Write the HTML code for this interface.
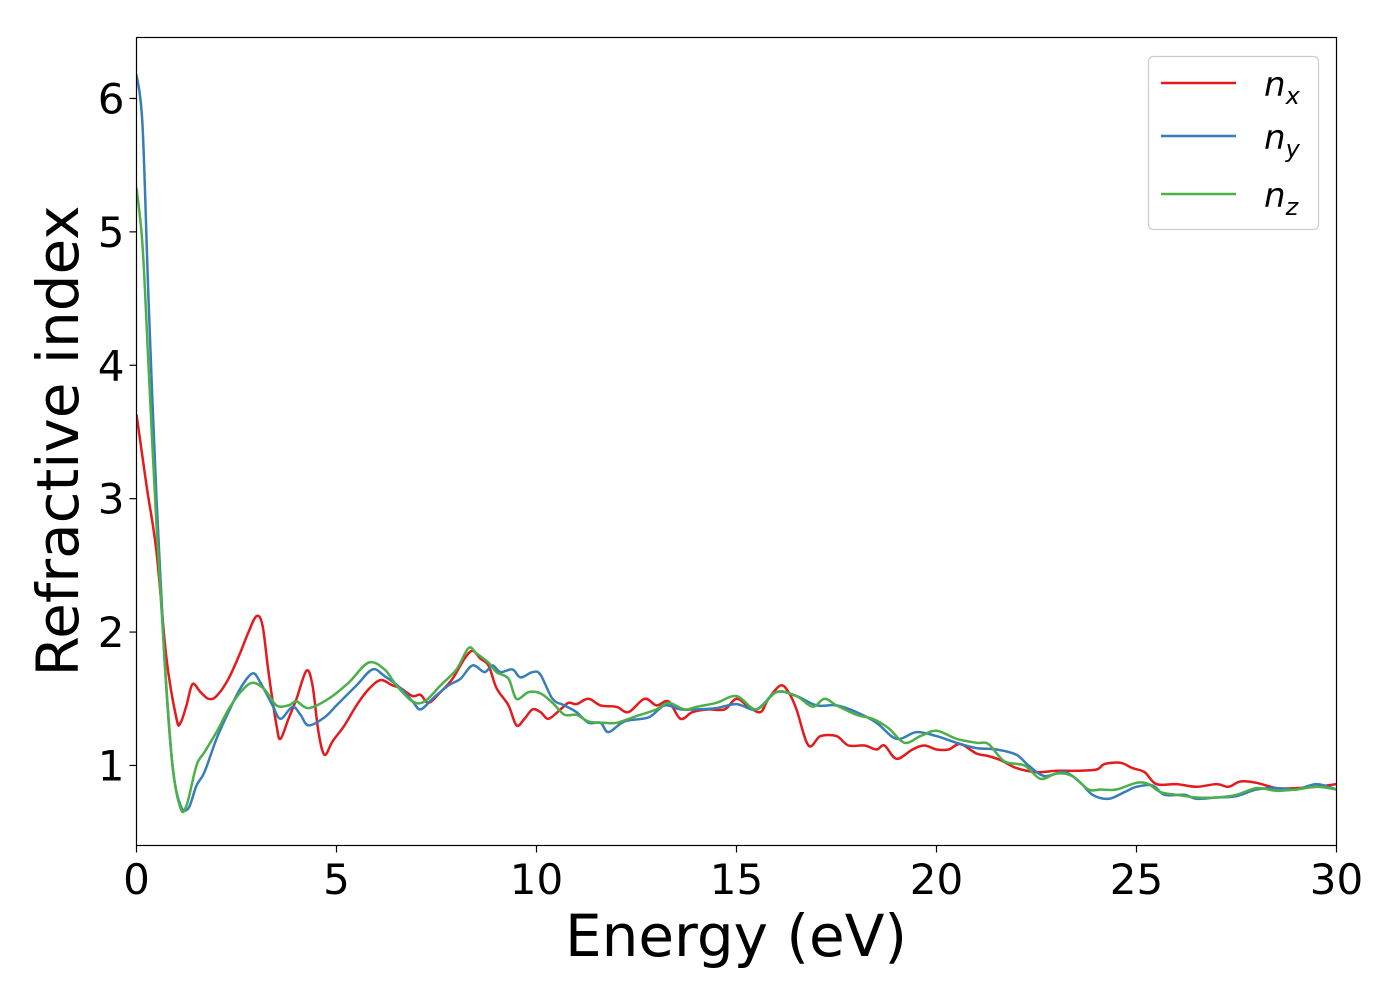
<!DOCTYPE html>
<html><head><meta charset="utf-8"><style>
body{margin:0;background:#fff}
svg text{font-family:"DejaVu Sans","Liberation Sans",sans-serif;fill:#000}
</style></head><body>
<svg id="chart" width="1400" height="1000" viewBox="0 0 1400 1000">
<rect x="0" y="0" width="1400" height="1000" fill="#fff"/>
<g id="plot"></g>
<rect x="136.5" y="37.5" width="1200" height="808" fill="none" stroke="#000" stroke-width="1.2"/>
<g id="xticks"></g>
<g id="yticks"></g>
<text x="736" y="956" font-size="58" text-anchor="middle">Energy (eV)</text>
<text transform="translate(78,441) rotate(-90)" font-size="58" text-anchor="middle">Refractive index</text>
<g>
<rect x="1148.5" y="56.5" width="170" height="173" rx="5" fill="#fff" stroke="#ccc" stroke-width="1.2"/>
<g><line x1="1161" y1="83" x2="1236" y2="83" stroke="#e41a1c" stroke-width="2.5"/><text x="1264" y="96" font-size="34" font-style="italic">n<tspan font-size="24" dy="8">x</tspan></text></g>
<g><line x1="1161" y1="136" x2="1236" y2="136" stroke="#377eb8" stroke-width="2.5"/><text x="1264" y="149" font-size="34" font-style="italic">n<tspan font-size="24" dy="8">y</tspan></text></g>
<g><line x1="1161" y1="194" x2="1236" y2="194" stroke="#4daf4a" stroke-width="2.5"/><text x="1264" y="207" font-size="34" font-style="italic">n<tspan font-size="24" dy="8">z</tspan></text></g>
</g>
</svg>
<script>
const xTicks=[0,5,10,15,20,25,30];
const yTicks=[1,2,3,4,5,6];
const nxE=[0,0.25,0.5,0.75,1.0,1.1,1.25,1.4,1.6,1.8,2.0,2.3,2.6,2.8,3.0,3.15,3.3,3.5,3.6,3.8,4.0,4.25,4.4,4.55,4.7,4.9,5.2,5.5,5.8,6.1,6.4,6.6,6.9,7.1,7.3,7.6,7.9,8.2,8.4,8.6,8.8,9.0,9.3,9.5,9.7,9.9,10.1,10.3,10.6,10.8,11.0,11.3,11.6,12.0,12.3,12.7,13.0,13.3,13.6,13.9,14.3,14.7,15.0,15.3,15.6,15.8,16.1,16.3,16.5,16.8,17.1,17.5,17.8,18.2,18.5,18.7,19.0,19.4,19.7,20.0,20.3,20.6,21.0,21.3,21.6,22.0,22.5,23.0,23.5,24.0,24.2,24.6,24.9,25.2,25.5,26.0,26.5,27.0,27.3,27.6,28.0,28.5,29.0,29.5,30];
const nxV=[3.63,3.1,2.6,1.8,1.35,1.32,1.45,1.61,1.55,1.5,1.52,1.65,1.85,2.0,2.12,2.05,1.7,1.3,1.2,1.35,1.5,1.71,1.6,1.25,1.08,1.18,1.3,1.45,1.57,1.64,1.6,1.58,1.52,1.53,1.47,1.55,1.65,1.8,1.86,1.8,1.75,1.58,1.45,1.3,1.35,1.42,1.4,1.35,1.42,1.47,1.46,1.5,1.45,1.44,1.4,1.5,1.45,1.48,1.35,1.4,1.42,1.42,1.5,1.44,1.4,1.5,1.6,1.55,1.42,1.15,1.22,1.22,1.15,1.15,1.12,1.15,1.05,1.12,1.15,1.12,1.12,1.16,1.09,1.07,1.04,0.98,0.95,0.96,0.96,0.97,1.01,1.02,0.98,0.95,0.86,0.86,0.84,0.86,0.84,0.88,0.87,0.83,0.83,0.84,0.86];
const nyE=[0,0.15,0.3,0.5,0.7,0.9,1.1,1.3,1.5,1.7,2.0,2.3,2.6,2.9,3.1,3.4,3.6,3.9,4.1,4.3,4.7,5.0,5.5,5.9,6.2,6.6,6.9,7.1,7.4,7.8,8.1,8.4,8.7,8.9,9.1,9.4,9.6,9.9,10.1,10.4,10.7,11.0,11.3,11.6,11.8,12.2,12.8,13.2,13.6,14.0,14.5,15.0,15.5,16.0,16.5,17.0,17.5,18.0,18.5,19.0,19.5,20.0,20.5,21.0,21.5,22.0,22.3,22.7,23.2,23.6,23.9,24.3,24.7,25.0,25.4,25.7,26.2,26.5,27.0,27.5,28.0,28.5,29.0,29.5,30];
const nyV=[6.18,5.8,4.5,3.0,1.8,1.0,0.7,0.68,0.85,0.95,1.2,1.4,1.58,1.69,1.62,1.45,1.35,1.44,1.38,1.3,1.36,1.45,1.6,1.72,1.67,1.58,1.48,1.42,1.5,1.6,1.65,1.75,1.7,1.75,1.7,1.72,1.66,1.7,1.68,1.5,1.45,1.4,1.32,1.32,1.25,1.33,1.36,1.45,1.42,1.42,1.43,1.46,1.42,1.55,1.52,1.45,1.45,1.4,1.32,1.2,1.25,1.22,1.17,1.13,1.12,1.08,1.0,0.92,0.95,0.87,0.78,0.75,0.8,0.84,0.85,0.78,0.78,0.75,0.76,0.77,0.82,0.83,0.82,0.86,0.82];
const nzE=[0,0.15,0.3,0.5,0.7,0.9,1.1,1.25,1.5,1.7,2.0,2.3,2.6,2.9,3.2,3.5,3.8,4.0,4.3,4.8,5.3,5.8,6.2,6.5,6.9,7.2,7.6,8.0,8.3,8.5,8.8,9.0,9.3,9.5,9.8,10.1,10.4,10.7,11.0,11.3,11.7,12.0,12.5,13.0,13.3,13.7,14.0,14.5,15.0,15.5,16.0,16.5,16.9,17.2,17.5,18.0,18.4,18.8,19.2,19.6,20.0,20.5,21.0,21.3,21.7,22.2,22.6,23.0,23.4,23.8,24.1,24.5,25.0,25.3,25.6,26.0,26.5,27.0,27.5,28.0,28.5,29.0,29.5,30];
const nzV=[5.33,4.9,4.0,2.8,1.8,1.0,0.68,0.7,1.0,1.1,1.25,1.42,1.55,1.62,1.57,1.45,1.45,1.48,1.43,1.5,1.62,1.77,1.72,1.6,1.48,1.48,1.6,1.72,1.88,1.84,1.77,1.7,1.65,1.5,1.55,1.54,1.47,1.38,1.38,1.33,1.32,1.32,1.37,1.42,1.47,1.42,1.44,1.47,1.52,1.42,1.55,1.52,1.44,1.5,1.45,1.38,1.35,1.28,1.17,1.22,1.26,1.2,1.17,1.16,1.03,1.0,0.9,0.94,0.92,0.82,0.82,0.82,0.87,0.86,0.8,0.78,0.76,0.76,0.78,0.83,0.81,0.82,0.84,0.82];

const NS='http://www.w3.org/2000/svg';
const X0=136.5,X1=1336.5,YT=37.5,YB=845.5,ymin=0.4,ymax=6.457;
const sx=v=>X0+(v/30)*(X1-X0);
const sy=v=>YB-(v-ymin)/(ymax-ymin)*(YB-YT);
function pathFrom(E,V){
  const p=E.map((e,i)=>[sx(e),sy(V[i])]);
  let d='M'+p[0][0].toFixed(1)+','+p[0][1].toFixed(1);
  for(let i=0;i<p.length-1;i++){
    const a=p[Math.max(0,i-1)],b=p[i],c=p[i+1],n=p[Math.min(p.length-1,i+2)];
    const c1=[b[0]+(c[0]-a[0])/6,b[1]+(c[1]-a[1])/6],c2=[c[0]-(n[0]-b[0])/6,c[1]-(n[1]-b[1])/6];
    d+=' C'+c1[0].toFixed(1)+','+c1[1].toFixed(1)+' '+c2[0].toFixed(1)+','+c2[1].toFixed(1)+' '+c[0].toFixed(1)+','+c[1].toFixed(1);
  }
  return d;
}
const plot=document.getElementById('plot');
const clip=document.createElementNS(NS,'clipPath');clip.id='clp';
const cr=document.createElementNS(NS,'rect');cr.setAttribute('x',X0);cr.setAttribute('y',YT);cr.setAttribute('width',X1-X0);cr.setAttribute('height',YB-YT);
clip.appendChild(cr);plot.appendChild(clip);
plot.setAttribute('clip-path','url(#clp)');
const series=[[nxE,nxV,'#e41a1c','series-nx'],[nyE,nyV,'#377eb8','series-ny'],[nzE,nzV,'#4daf4a','series-nz']];
series.forEach(s=>{
  const p=document.createElementNS(NS,'path');
  p.setAttribute('d',pathFrom(s[0],s[1]));
  p.setAttribute('fill','none');p.setAttribute('stroke',s[2]);p.setAttribute('stroke-width','2.5');p.setAttribute('stroke-linejoin','round');
  
  
  plot.appendChild(p);
});
const xg=document.getElementById('xticks');
xTicks.forEach(t=>{
  const l=document.createElementNS(NS,'line');
  l.setAttribute('x1',sx(t));l.setAttribute('x2',sx(t));l.setAttribute('y1',YB);l.setAttribute('y2',YB+7);l.setAttribute('stroke','#000');l.setAttribute('stroke-width','1.2');
  
  
  xg.appendChild(l);
  const tx=document.createElementNS(NS,'text');
  tx.setAttribute('x',sx(t));tx.setAttribute('y',894);tx.setAttribute('font-size','42');tx.setAttribute('text-anchor','middle');
  tx.textContent=t;
  
  
  xg.appendChild(tx);
});
const yg=document.getElementById('yticks');
yTicks.forEach(t=>{
  const l=document.createElementNS(NS,'line');
  l.setAttribute('x1',X0-7);l.setAttribute('x2',X0);l.setAttribute('y1',sy(t));l.setAttribute('y2',sy(t));l.setAttribute('stroke','#000');l.setAttribute('stroke-width','1.2');
  
  
  yg.appendChild(l);
  const tx=document.createElementNS(NS,'text');
  tx.setAttribute('x',X0-12);tx.setAttribute('y',sy(t)+15);tx.setAttribute('font-size','42');tx.setAttribute('text-anchor','end');
  tx.textContent=t;
  
  
  yg.appendChild(tx);
});
</script>
</body></html>
